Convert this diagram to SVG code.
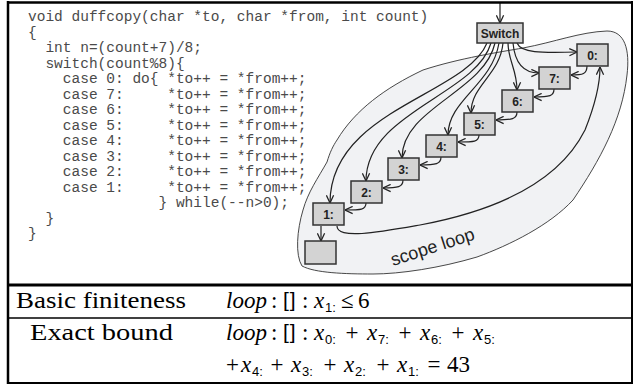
<svg xmlns="http://www.w3.org/2000/svg" width="638" height="385" viewBox="0 0 638 385">
<defs>
<marker id="ah" viewBox="0 0 10 10" refX="9.5" refY="5" markerWidth="9" markerHeight="9" orient="auto" markerUnits="userSpaceOnUse"><path d="M1,1 L9.5,5 L1,9" fill="none" stroke="#222" stroke-width="1.4"/></marker>
</defs>
<style>
.code{font-family:"Liberation Mono","Courier New",monospace;font-size:14.5px;fill:#4a4a4a;white-space:pre}
.box{fill:#d3d3d3;stroke:#333;stroke-width:1.5}
.lbl{font-family:"Liberation Sans",Arial,sans-serif;font-weight:bold;font-size:12px;fill:#222;text-anchor:middle}
.edge{fill:none;stroke:#222;stroke-width:1.2;marker-end:url(#ah)}
.rm{font-family:"Liberation Serif","Times New Roman",serif;font-size:24px;fill:#000}
.m{font-family:"Liberation Serif","Times New Roman",serif;font-size:23px;fill:#000}
.it{font-style:italic}
.sub{font-family:"Liberation Sans",Arial,sans-serif;font-size:13px;fill:#000}
.br{font-family:"Liberation Sans",Arial,sans-serif;font-size:21px;fill:#000;letter-spacing:1px}
.mid{text-anchor:middle}
</style>
<rect x="0" y="0" width="638" height="385" fill="#fff"/>

<g id="code">
<text class="code" xml:space="preserve" x="28" y="21">void duffcopy(char *to, char *from, int count)</text>
<text class="code" xml:space="preserve" x="28" y="36.5">{</text>
<text class="code" xml:space="preserve" x="45.4" y="52">int n=(count+7)/8;</text>
<text class="code" xml:space="preserve" x="45.4" y="67.5">switch(count%8){</text>
<text class="code" xml:space="preserve" x="62.8" y="83">case 0: do{ *to++ = *from++;</text>
<text class="code" xml:space="preserve" x="62.8" y="98.5">case 7:     *to++ = *from++;</text>
<text class="code" xml:space="preserve" x="62.8" y="114">case 6:     *to++ = *from++;</text>
<text class="code" xml:space="preserve" x="62.8" y="129.5">case 5:     *to++ = *from++;</text>
<text class="code" xml:space="preserve" x="62.8" y="145">case 4:     *to++ = *from++;</text>
<text class="code" xml:space="preserve" x="62.8" y="160.5">case 3:     *to++ = *from++;</text>
<text class="code" xml:space="preserve" x="62.8" y="176">case 2:     *to++ = *from++;</text>
<text class="code" xml:space="preserve" x="62.8" y="191.5">case 1:     *to++ = *from++;</text>
<text class="code" xml:space="preserve" x="158.5" y="207">} while(--n&gt;0);</text>
<text class="code" xml:space="preserve" x="45.4" y="222.5">}</text>
<text class="code" xml:space="preserve" x="28" y="238">}</text>
</g>

<g id="scope-loop">
<path d="M337,140 C355,110 385,88 423,70 C460,58 500,52 523,48 C555,42 580,32 607,31 C625,31 630,50 627,75 C622,120 600,160 573,200 C550,225 510,245 477,257 C440,268 400,274 373,274 C345,274 315,273 302,266 C295,255 297,230 303,210 C308,192 318,178 327,162 C330,152 333,146 337,140 Z" fill="#f1f2f4" stroke="#333" stroke-width="0.9"/>
<text x="393" y="266" transform="rotate(-18 393 266)" font-family="'Liberation Sans',Arial,sans-serif" font-size="18" fill="#222">scope loop</text>
</g>

<g id="connectors">
<path class="edge" d="M500,2 L500,23"/>
<path class="edge" d="M517,43 C521,53 540,53 577,52"/>
<path class="edge" d="M513,43 C515,65 525,73 539,73"/>
<path class="edge" d="M508,43 C508,60 517,70 517,90"/>
<path class="edge" d="M503,43 C500,75 471,85 471,113"/>
<path class="edge" d="M499,43 C492,85 448,100 448,135"/>
<path class="edge" d="M495,43 C484,92 402,108 402,158"/>
<path class="edge" d="M491,43 C476,95 366,112 366,181"/>
<path class="edge" d="M487,43 C466,95 330,110 330,203"/>
<path class="edge" d="M587,66 C587,74 583,75 571,75"/>
<path class="edge" d="M554,89 C554,96 550,97 534,97"/>
<path class="edge" d="M517,112 C517,119 512,120 496,120"/>
<path class="edge" d="M479,135 C479,142 474,142 458,142"/>
<path class="edge" d="M441,157 C441,164 436,165 420,165"/>
<path class="edge" d="M403,180 C403,187 398,188 383,188"/>
<path class="edge" d="M366,203 C366,210 361,210 345,210"/>
<path class="edge" d="M321,226 L321,241"/>
<path class="edge" d="M337,226 C337,240 380,232 420,225 C500,210 560,180 585,130 C595,105 600,85 600,67"/>
</g>

<g id="node-switch"><rect class="box" x="477" y="23" width="46" height="20"/><text class="lbl" x="500" y="37.5">Switch</text></g>
<g id="node-0"><rect class="box" x="577" y="44" width="31" height="22"/><text class="lbl" x="592.5" y="59.5">0:</text></g>
<g id="node-7"><rect class="box" x="539" y="67" width="31" height="22"/><text class="lbl" x="554.5" y="82.5">7:</text></g>
<g id="node-6"><rect class="box" x="502" y="90" width="31" height="22"/><text class="lbl" x="517.5" y="105.5">6:</text></g>
<g id="node-5"><rect class="box" x="464" y="113" width="31" height="22"/><text class="lbl" x="479.5" y="128.5">5:</text></g>
<g id="node-4"><rect class="box" x="426" y="135" width="31" height="22"/><text class="lbl" x="441.5" y="150.5">4:</text></g>
<g id="node-3"><rect class="box" x="388" y="158" width="31" height="22"/><text class="lbl" x="403.5" y="173.5">3:</text></g>
<g id="node-2"><rect class="box" x="351" y="181" width="31" height="22"/><text class="lbl" x="366.5" y="196.5">2:</text></g>
<g id="node-1"><rect class="box" x="313" y="203" width="31" height="22"/><text class="lbl" x="328.5" y="218.5">1:</text></g>
<g id="node-exit"><rect class="box" x="305" y="241" width="31" height="23"/></g>

<g id="table">
<text class="rm" x="16" y="308" textLength="170" lengthAdjust="spacingAndGlyphs">Basic finiteness</text>
<text class="m it" x="226" y="308">loop</text>
<text class="m" x="271" y="308">:</text>
<text class="br" x="283" y="307">[]</text>
<text class="m" x="302" y="308">:</text>
<text class="m it" x="314" y="308">x</text><text class="sub" x="325" y="312">1:</text>
<text class="m" x="341" y="308">≤</text>
<text class="m" x="358" y="308">6</text>

<text class="rm" x="30" y="340" textLength="143" lengthAdjust="spacingAndGlyphs">Exact bound</text>
<text class="m it" x="226" y="340">loop</text>
<text class="m" x="271" y="340">:</text>
<text class="br" x="283" y="339">[]</text>
<text class="m" x="302" y="340">:</text>
<text class="m it" x="314" y="340">x</text><text class="sub" x="325" y="344">0:</text>
<text class="m mid" x="352" y="340">+</text>
<text class="m it" x="367" y="340">x</text><text class="sub" x="378" y="344">7:</text>
<text class="m mid" x="405" y="340">+</text>
<text class="m it" x="420" y="340">x</text><text class="sub" x="431" y="344">6:</text>
<text class="m mid" x="458" y="340">+</text>
<text class="m it" x="473" y="340">x</text><text class="sub" x="484" y="344">5:</text>

<text class="m" x="226" y="372">+</text>
<text class="m it" x="241" y="372">x</text><text class="sub" x="252" y="376">4:</text>
<text class="m mid" x="277" y="372">+</text>
<text class="m it" x="291" y="372">x</text><text class="sub" x="302" y="376">3:</text>
<text class="m mid" x="330" y="372">+</text>
<text class="m it" x="344" y="372">x</text><text class="sub" x="355" y="376">2:</text>
<text class="m mid" x="383" y="372">+</text>
<text class="m it" x="397" y="372">x</text><text class="sub" x="408" y="376">1:</text>
<text class="m mid" x="434" y="372">=</text>
<text class="m" x="447" y="372">43</text>
</g>

<g id="frame" fill="none" stroke="#000">
<line x1="7" y1="2.5" x2="633" y2="2.5" stroke-width="2.5"/>
<line x1="8" y1="1" x2="8" y2="384" stroke-width="2.5"/>
<line x1="632" y1="1" x2="632" y2="384" stroke-width="2"/>
<line x1="7" y1="285" x2="633" y2="285" stroke-width="3"/>
<line x1="7" y1="318" x2="633" y2="318" stroke-width="1.5"/>
<line x1="7" y1="383" x2="633" y2="383" stroke-width="2"/>
</g>
</svg>
